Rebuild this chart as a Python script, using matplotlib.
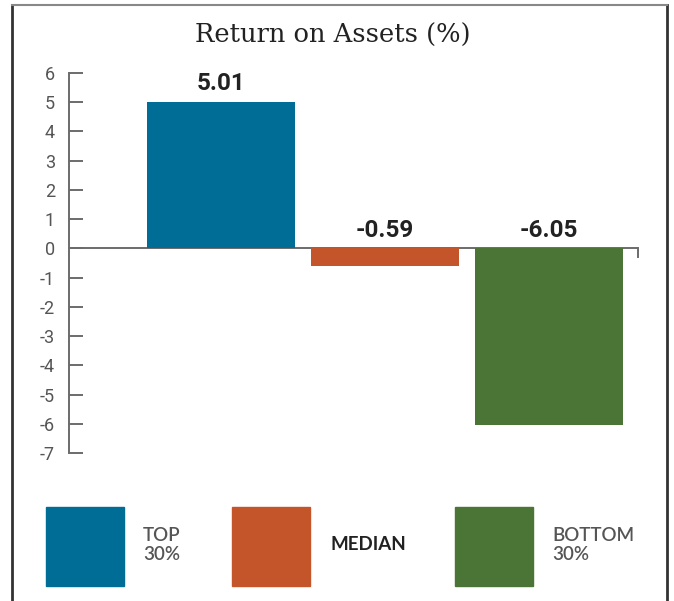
import matplotlib
matplotlib.use("Agg")
import matplotlib.pyplot as plt
from matplotlib.lines import Line2D
from matplotlib.patches import Rectangle

# data
categories = ["TOP\n30%", "MEDIAN", "BOTTOM\n30%"]
values = [5.01, -0.59, -6.05]
labels = ["5.01", "-0.59", "-6.05"]
colors = ["#006d96", "#c4552a", "#4a7536"]
yticks = list(range(-7, 7))

W, H = 674, 601
fig = plt.figure(figsize=(W / 100, H / 100), dpi=100)

# axes placement in pixels
ax_left, ax_right = 69, 638
ax_top, ax_bottom = 73, 453
ax = fig.add_axes([ax_left / W, 1 - ax_bottom / H,
                   (ax_right - ax_left) / W, (ax_bottom - ax_top) / H])

x = list(range(len(values)))
bar_w = 148 / 164
ax.bar(x, values, width=bar_w, color=colors, zorder=2)

ax.set_xlim((69 - 221) / 164, (638 - 221) / 164)
ax.set_ylim(-7, 6)

for s in ["top", "right", "bottom"]:
    ax.spines[s].set_visible(False)
ax.spines["left"].set_color("#6b6b6b")
ax.spines["left"].set_linewidth(1.4)

ax.set_xticks([])
ax.set_yticks(yticks)
ax.set_yticklabels([str(t) for t in yticks])
ax.tick_params(axis="y", direction="in", length=10, width=1.4,
               color="#6b6b6b", labelcolor="#555555", labelsize=13, pad=10)
for lbl in ax.get_yticklabels():
    lbl.set_family("Roboto")

# zero line with a small end tick
ax.axhline(0, color="#6b6b6b", linewidth=1.4, zorder=1)
ax.plot([ax.get_xlim()[1]] * 2, [0, -0.3], color="#6b6b6b",
        linewidth=1.4, clip_on=False)

# value labels
for xi, v, t in zip(x, values, labels):
    ypos = v if v > 0 else 0
    ax.text(xi, ypos + 0.4, t, ha="center", va="baseline",
            fontsize=17.5, fontweight="bold", color="#222222",
            family="Roboto")

# title
fig.text(333 / W, 1 - 35 / H, "Return on Assets (%)", ha="center",
         va="center", fontsize=18.5, color="#222222", family="DejaVu Serif")

# legend
sq_x = [46, 232, 455]
txt_x = [143, 330, 552]
txt_colors = ["#555555", "#222222", "#555555"]
for sx, tx, c, cat, tc in zip(sq_x, txt_x, colors, categories, txt_colors):
    fig.add_artist(Rectangle((sx / W, 1 - 586 / H), 78 / W, 79 / H,
                             transform=fig.transFigure, color=c))
    fig.text(tx / W, 1 - 545 / H, cat, ha="left", va="center",
             fontsize=13.5, color=tc, family="Lato",
             fontweight="bold" if cat == "MEDIAN" else "semibold",
             linespacing=1.1)

# outer frame
frame_kw = dict(transform=fig.transFigure, linewidth=2)
fig.add_artist(Line2D([12 / W, 12 / W], [0, 1 - 5 / H], color="#333333", **frame_kw))
fig.add_artist(Line2D([667 / W, 667 / W], [0, 1 - 5 / H], color="#333333", **frame_kw))
fig.add_artist(Line2D([12 / W, 667 / W], [1 - 5 / H, 1 - 5 / H], color="#888888",
                      transform=fig.transFigure, linewidth=1.5))

fig.savefig("out.png", dpi=100)
